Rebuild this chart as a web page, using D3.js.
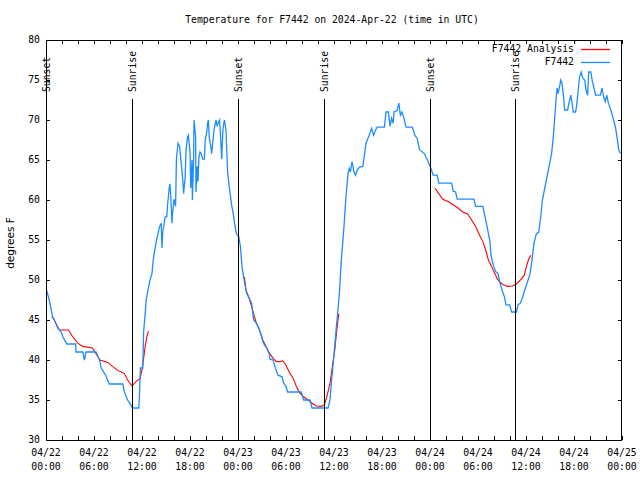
<!DOCTYPE html>
<html><head><meta charset="utf-8">
<script src="https://cdn.jsdelivr.net/npm/d3@7"></script>
<style>
html,body{margin:0;padding:0;background:#fff;}
svg{display:block;}
.mono{font-family:"DejaVu Sans Mono","Liberation Mono",monospace;font-size:9.75px;fill:#000;}
</style></head>
<body>
<svg id="chart" width="640" height="480"></svg>
<script>
// ---- data (hours since 2024-04-22 00:00 UTC) ----
const titleText = "Temperature for F7442 on 2024-Apr-22 (time in UTC)";
const yLabelText = "degrees F";
const seriesNames = ["F7442 Analysis", "F7442"];
const yTicks = [30, 35, 40, 45, 50, 55, 60, 65, 70, 75, 80];
const sunHours = [0, 10.75, 24, 34.7, 48, 58.6];
const sunLabels = ["Sunset", "Sunrise", "Sunset", "Sunrise", "Sunset", "Sunrise"];

const obsHours = [0,0.4,0.83,1.04,1.46,1.9,2.1,2.6,3.7,3.75,4.6,4.8,5.0,6.25,6.5,6.7,6.9,7.5,7.9,9.6,9.8,10.2,10.6,10.8,11.6,11.67,11.8,12.1,12.2,12.4,12.5,12.7,13,13.25,13.4,13.7,14,14.2,14.4,14.5,14.6,14.9,15.1,15.2,15.4,15.5,15.6,15.75,15.8,16.0,16.2,16.3,16.5,16.7,16.9,17.1,17.2,17.4,17.5,17.7,17.8,18,18.1,18.25,18.3,18.45,18.5,18.7,18.75,18.9,19,19.1,19.25,19.4,19.6,19.8,19.9,20.1,20.2,20.3,20.4,20.6,20.7,20.8,21.0,21.25,21.4,21.5,21.7,21.8,21.96,22.1,22.2,22.3,22.5,22.7,22.9,23.2,23.4,23.6,23.8,24.1,24.3,24.5,24.7,24.9,25.1,25.4,25.7,25.96,26.3,26.6,26.9,27.1,27.3,27.6,27.9,28.0,28.4,28.6,29.0,29.5,29.7,30.0,30.2,31.9,32.2,33,33.25,35.25,35.5,35.7,35.9,36.1,36.3,36.5,36.7,36.9,37.1,37.25,37.4,37.5,37.75,37.9,38.05,38.25,38.5,38.7,38.9,39.2,39.6,39.8,40.0,40.4,40.7,40.96,41.2,41.4,42.3,42.5,42.8,43.0,43.2,43.4,43.5,43.9,44.1,44.3,44.5,44.75,45.0,45.8,46.1,46.4,46.7,47.3,47.75,48.1,48.4,48.9,49.1,50.7,50.9,51.2,51.4,53.5,53.7,54.6,54.8,55.05,55.3,55.5,55.6,55.75,55.96,56.2,56.5,56.7,57.0,57.3,57.5,57.96,58.2,58.8,59.0,59.3,59.6,59.84,60.2,60.5,60.7,61.0,61.3,61.6,61.84,62.05,62.3,62.7,62.96,63.2,63.4,63.6,63.8,63.9,64.0,64.2,64.34,64.5,64.7,64.84,65.2,65.4,65.6,65.76,65.9,66.2,66.34,66.5,66.7,66.9,67.1,67.34,67.5,67.7,67.84,68.1,68.3,68.5,68.7,69.3,69.5,69.7,69.9,70.1,70.3,70.6,70.9,71.2,71.4,71.6,71.8];
const obsTemps = [49,47.5,45.4,45,44,43.5,42.9,42,42,41,41,40,41,41,40.4,40,39,38,37,37,36,35,34.4,34,34,35.3,39,39,43.5,45.8,47.3,48.5,50,50.8,52.5,54.4,55.8,56.7,57.1,54,56,57.9,57.9,59.4,61.5,62,60.4,57.1,58.1,60.1,59.2,65,67.1,66.7,64.6,62.5,60.8,62.9,66.25,67.9,68.1,66,61.5,65,60,65,70,67.9,61,64.2,62.3,65.2,66,65.8,65.1,65.1,67.5,68.5,69.6,70,67.9,66.7,65.8,66.7,68.75,70,69.2,69.6,70,68.3,65.1,68.5,69.4,70,68.75,63.5,61.7,59.4,58.3,56.9,55.8,55.4,54.2,51.7,50.4,49.2,48.3,47.7,47.1,45,44.6,44,43.1,42.3,41.9,41.5,40.8,40.1,40,39.2,38.1,37.9,37.1,36.7,36,36,35,35,34,34,35,37.5,39.6,41.9,44.2,46.25,48.75,52.3,54.8,56.7,59,60.4,63.3,63.95,63.5,64.8,63.5,63.1,63.75,64.1,64.2,65.6,67.1,68.1,68.95,68.1,68.75,69.1,69.1,71,71,69.2,70.2,69.6,71,71.2,72.1,70.6,71,70.2,69.1,69.1,68.1,67.7,66.25,65.8,64.8,64,63.1,63.1,62.1,62.1,61.1,61,60.1,60.1,59.2,59.2,58.3,57.1,55.8,54.8,53.3,52.5,51.7,51.05,50.8,49.8,48.75,47.9,46.9,46.9,46,46,46.9,47.1,47.9,48.75,49.8,50.8,52.1,54.6,55.8,56,57.9,60,61.25,63.3,64.6,65.8,67.7,70.4,73.1,74,73.3,74.2,75,74.6,72.9,71.25,71.25,72.3,73.1,72.1,71,71,71.9,73.5,75.4,76,75.2,75,73.75,73.1,76,76,74.8,74,73.1,73.1,74,72.9,72.3,73.1,72.1,71.25,70.2,69,67.7,66.25,65.8];

// analysis (null = gap)
const anaHours = [0.75,1.04,1.33,1.67,2.8,3.33,3.96,4.6,5.8,6.25,6.75,7.7,8.3,8.96,9.8,10.2,10.75,11.25,11.75,12,12.2,12.4,12.6,12.8,
  null,
  24.8,25.0,25.4,25.7,26.0,26.3,26.7,27.1,27.5,27.96,28.4,28.8,29.2,29.6,29.96,30.4,30.9,31.3,31.7,32.2,32.75,33.4,33.8,34.4,34.8,35.1,35.5,35.8,36.1,36.3,36.5,36.6,
  null,
  48.6,49.1,49.6,50.25,50.9,51.5,52.1,52.7,53.2,53.7,54.2,54.6,54.96,55.3,55.7,56.1,56.5,57.0,57.7,58.3,58.8,59.4,59.8,60.05,60.3,60.6];
const anaTemps = [45.4,45,44.4,43.75,43.75,42.9,42.1,41.7,41.5,40.8,40,39.7,39.2,38.7,38.3,37.5,36.75,37.3,37.7,38.75,40.2,41.7,42.9,43.6,
  null,
  50.4,48.75,47.7,46.7,45.6,44.6,43.75,42.5,41.7,40.8,40.2,39.8,39.8,39.9,39.4,38.5,37.7,36.7,35.9,35.4,35,34.5,34.25,34.2,34.4,35.4,37.1,39.2,41.25,43.3,45,45.8,
  null,
  61.5,60.8,60.1,59.8,59.4,59,58.5,58.25,57.5,56.7,55.6,54.8,53.75,52.5,51.7,50.8,50,49.5,49.2,49.25,49.5,50.1,50.6,51.7,52.5,53.1];

// ---- layout ----
const L = 46, R = 622, T = 40, B = 440;
const start = new Date(Date.UTC(2024, 3, 22, 0, 0));
const end = new Date(Date.UTC(2024, 3, 25, 0, 0));
const toDate = h => new Date(start.getTime() + h * 3600e3);

const x = d3.scaleUtc().domain([start, end]).range([L, R]);
const y = d3.scaleLinear().domain([30, 80]).range([B, T]);

const svg = d3.select("#chart");
const blue = "#1e8cff", red = "#ff0000";

// title
svg.append("text").attr("class", "mono").attr("x", 332).attr("y", 20).attr("dy", "0.35em")
  .attr("text-anchor", "middle").text(titleText);

// y label
svg.append("text").attr("transform", "translate(10,243) rotate(-90)")
  .attr("text-anchor", "middle").attr("dy", "0.35em")
  .style("font-family", "'DejaVu Sans',sans-serif").style("font-size", "10.5px")
  .text(yLabelText);

// axes
const majorTicks = d3.utcHour.every(6).range(start, d3.utcHour.offset(end, 1));
const minorTicks = d3.utcHour.every(2).range(start, d3.utcHour.offset(end, 1));

const gB = svg.append("g").attr("transform", `translate(0,${B})`)
  .call(d3.axisBottom(x).tickValues(minorTicks).tickSizeInner(-4).tickSizeOuter(0).tickFormat(""));
const gT = svg.append("g").attr("transform", `translate(0,${T})`)
  .call(d3.axisTop(x).tickValues(minorTicks).tickSizeInner(-4).tickSizeOuter(0).tickFormat(""));
const gL = svg.append("g").attr("transform", `translate(${L},0)`)
  .call(d3.axisLeft(y).tickValues(yTicks).tickSizeInner(-4).tickSizeOuter(0).tickFormat(""));
const gR = svg.append("g").attr("transform", `translate(${R},0)`)
  .call(d3.axisRight(y).tickValues(yTicks).tickSizeInner(-4).tickSizeOuter(0).tickFormat(""));
[gB, gT, gL, gR].forEach(g => {
  g.select(".domain").remove();
  g.selectAll("line").attr("stroke", "#000").attr("stroke-width", 1);
});

// frame
svg.append("rect").attr("x", L + 0.5).attr("y", T + 0.5).attr("width", R - L - 1).attr("height", B - T)
  .attr("fill", "none").attr("stroke", "#000").attr("stroke-width", 1);

// y tick labels
svg.append("g").selectAll("text").data(yTicks).join("text")
  .attr("class", "mono").attr("x", 40).attr("y", d => y(d)).attr("dy", "0.35em")
  .attr("text-anchor", "end").text(d => d);

// x tick labels
const fmtD = d3.utcFormat("%m/%d"), fmtT = d3.utcFormat("%H:%M");
const xl = svg.append("g").selectAll("text").data(majorTicks).join("text")
  .attr("class", "mono").attr("text-anchor", "middle");
xl.append("tspan").attr("x", d => x(d)).attr("y", 453).attr("dy", "0.35em").text(d => fmtD(d));
xl.append("tspan").attr("x", d => x(d)).attr("y", 467).attr("dy", "0.35em").text(d => fmtT(d));

// clip
svg.append("clipPath").attr("id", "clip").append("rect")
  .attr("x", L).attr("y", T).attr("width", R - L).attr("height", B - T);

// series
const anaData = anaHours.map((h, i) => ({h, t: anaTemps[i]}));
const obsData = obsHours.map((h, i) => ({h, t: obsTemps[i]}));
const line = d3.line().defined(d => d.h !== null && d.t !== null)
  .x(d => x(toDate(d.h))).y(d => y(d.t));

svg.append("path").datum(anaData).attr("clip-path", "url(#clip)")
  .attr("fill", "none").attr("stroke", red).attr("stroke-width", 1.1).attr("d", line);
svg.append("path").datum(obsData).attr("clip-path", "url(#clip)")
  .attr("fill", "none").attr("stroke", blue).attr("stroke-width", 1.3).attr("d", line);

// sunrise / sunset markers
const sg = svg.append("g");
sunHours.forEach((h, i) => {
  const xx = Math.round(x(toDate(h))) + 0.5;
  sg.append("line").attr("x1", xx).attr("x2", xx).attr("y1", 99).attr("y2", B)
    .attr("stroke", "#000").attr("stroke-width", 1);
  sg.append("text").attr("class", "mono")
    .attr("transform", `translate(${xx},92) rotate(-90)`)
    .attr("dy", "0.35em").attr("text-anchor", "start").text(sunLabels[i]);
});

// legend
const legColors = [red, blue];
seriesNames.forEach((n, i) => {
  const yy = 49 + i * 13;
  svg.append("text").attr("class", "mono").attr("x", 574).attr("y", yy).attr("dy", "0.35em")
    .attr("text-anchor", "end").text(n);
  svg.append("line").attr("x1", 581).attr("x2", 610).attr("y1", yy + 0.5).attr("y2", yy + 0.5)
    .attr("stroke", legColors[i]).attr("stroke-width", 1.3);
});
</script>
</body></html>
